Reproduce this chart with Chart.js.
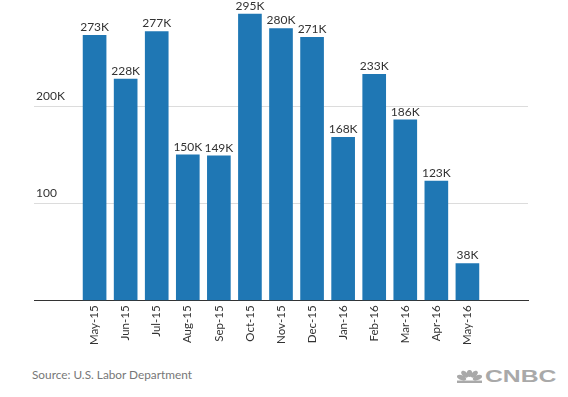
<!DOCTYPE html>
<html>
<head>
<meta charset="utf-8">
<script src="https://cdn.jsdelivr.net/npm/chart.js@4"></script>
<style>
  html, body { margin: 0; padding: 0; background: #fff; }
  #wrap { position: relative; width: 568px; height: 397px; overflow: hidden; }
  #box { position: absolute; left: 0; top: 0; width: 568px; height: 350px; }
  #source { position: absolute; left: 32px; top: 368px; font-family: Lato, "Open Sans", sans-serif; font-size: 11.8px; color: #777; line-height: 14px; }
  #logo { position: absolute; left: 457px; top: 367px; height: 18px; display: flex; align-items: center; }
  #logo span { font-family: "Liberation Sans", Arial, sans-serif; font-weight: bold; font-size: 16.5px; color: #a9a9a9; display: inline-block; transform: scaleX(1.5); transform-origin: left center; margin-left: 3px; }
</style>
</head>
<body>
<div id="wrap">
  <div id="box"><canvas id="c"></canvas></div>
  <div id="source">Source: U.S. Labor Department</div>
  <div id="logo">
    <svg width="25" height="13" viewBox="0 0 22 16" preserveAspectRatio="none">
      <g fill="#a9a9a9">
        <ellipse cx="4" cy="9.5" rx="2.8" ry="4.6" transform="rotate(-55 4 9.5)"/>
        <ellipse cx="6.8" cy="5.2" rx="2.5" ry="4.6" transform="rotate(-25 6.8 5.2)"/>
        <ellipse cx="11" cy="4.2" rx="2.4" ry="4.3"/>
        <ellipse cx="15.2" cy="5.2" rx="2.5" ry="4.6" transform="rotate(25 15.2 5.2)"/>
        <ellipse cx="18" cy="9.5" rx="2.8" ry="4.6" transform="rotate(55 18 9.5)"/>
        <rect x="0" y="13" width="22" height="3"/>
      </g>
    </svg>
    <span>CNBC</span>
  </div>
</div>
<script>
const categories = ["May-15","Jun-15","Jul-15","Aug-15","Sep-15","Oct-15","Nov-15","Dec-15","Jan-16","Feb-16","Mar-16","Apr-16","May-16"];
const values = [273, 228, 277, 150, 149, 295, 280, 271, 168, 233, 186, 123, 38];
const yTickLabels = { 100: "100", 200: "200K" };

const FONT = "Lato, 'Open Sans', sans-serif";

const barLabels = {
  id: 'barLabels',
  afterDatasetsDraw(chart) {
    const ctx = chart.ctx;
    const meta = chart.getDatasetMeta(0);
    ctx.save();
    ctx.font = "12px " + FONT;
    ctx.fillStyle = "#333";
    ctx.textAlign = "center";
    ctx.textBaseline = "bottom";
    meta.data.forEach((el, i) => {
      ctx.fillText(values[i] + "K", el.x, el.y - 2);
    });
    ctx.restore();
  }
};

new Chart(document.getElementById('c'), {
  type: 'bar',
  data: {
    datasets: [{
      data: values.map((v, i) => ({ x: i, y: v })),
      backgroundColor: '#1f77b4',
      borderWidth: 0,
      barThickness: 23
    }]
  },
  plugins: [barLabels],
  options: {
    responsive: true,
    maintainAspectRatio: false,
    animation: false,
    devicePixelRatio: 1,
    layout: { padding: { left: 34, right: 40, top: 9, bottom: 0 } },
    plugins: { legend: { display: false }, tooltip: { enabled: false } },
    scales: {
      x: {
        type: 'linear',
        offset: false,
        min: -1.95,
        max: 13.95,
        afterBuildTicks(scale) {
          scale.ticks = categories.map((_, i) => ({ value: i }));
        },
        grid: { display: false, drawTicks: false, offset: false },
        border: { display: true, color: '#333', width: 1 },
        ticks: {
          autoSkip: false,
          minRotation: 90,
          maxRotation: 90,
          padding: 5,
          color: '#333',
          font: { family: FONT, size: 11.5 },
          callback: (v) => categories[v] ?? ''
        }
      },
      y: {
        min: 0,
        max: 300,
        afterFit(scale) { scale.width = 0; },
        grid: {
          drawTicks: false,
          color: (c) => (c.tick && (c.tick.value === 100 || c.tick.value === 200)) ? '#dcdcdc' : 'rgba(0,0,0,0)'
        },
        border: { display: false },
        ticks: {
          stepSize: 100,
          mirror: true,
          padding: 2,
          labelOffset: -10,
          color: '#333',
          font: { family: FONT, size: 12 },
          callback: (v) => yTickLabels[v] ?? ''
        }
      }
    }
  }
});
</script>
</body>
</html>
